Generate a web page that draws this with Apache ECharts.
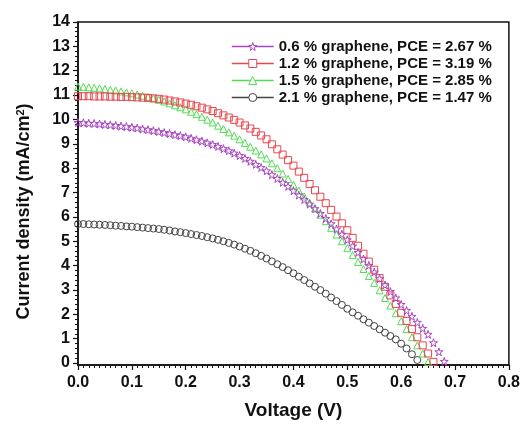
<!DOCTYPE html>
<html>
<head>
<meta charset="utf-8">
<script src="https://cdn.jsdelivr.net/npm/echarts@6/dist/echarts.min.js"></script>
<style>
  html, body { margin: 0; padding: 0; background: #fff; }
  #chart { width: 523px; height: 425px; }
</style>
</head>
<body>
<div id="chart"></div>
<script>
// voltage steps (V) and current density (mA/cm2)
const volts = [
  0.00, 0.01, 0.02, 0.03, 0.04, 0.05, 0.06, 0.07, 0.08, 0.09,
  0.10, 0.11, 0.12, 0.13, 0.14, 0.15, 0.16, 0.17, 0.18, 0.19,
  0.20, 0.21, 0.22, 0.23, 0.24, 0.25, 0.26, 0.27, 0.28, 0.29,
  0.30, 0.31, 0.32, 0.33, 0.34, 0.35, 0.36, 0.37, 0.38, 0.39,
  0.40, 0.41, 0.42, 0.43, 0.44, 0.45, 0.46, 0.47, 0.48, 0.49,
  0.50, 0.51, 0.52, 0.53, 0.54, 0.55, 0.56, 0.57, 0.58, 0.59,
  0.60, 0.61, 0.62, 0.63, 0.64, 0.65, 0.66, 0.67, 0.68
]

const g06 = [
  9.80, 9.79, 9.77, 9.76, 9.74, 9.72, 9.70, 9.68, 9.65, 9.63,
  9.60, 9.57, 9.53, 9.50, 9.46, 9.42, 9.38, 9.34, 9.29, 9.25,
  9.20, 9.14, 9.08, 9.02, 8.95, 8.88, 8.80, 8.71, 8.62, 8.52,
  8.42, 8.30, 8.18, 8.05, 7.92, 7.78, 7.62, 7.46, 7.30, 7.13,
  6.95, 6.77, 6.58, 6.39, 6.20, 6.00, 5.79, 5.57, 5.35, 5.13,
  4.90, 4.64, 4.37, 4.10, 3.83, 3.55, 3.28, 3.01, 2.74, 2.47,
  2.20, 1.95, 1.70, 1.45, 1.20, 0.95, 0.60, 0.22, -0.18
]
const g12 = [
  10.90, 10.90, 10.90, 10.89, 10.89, 10.89, 10.88, 10.88, 10.87, 10.87,
  10.86, 10.85, 10.84, 10.83, 10.81, 10.79, 10.76, 10.72, 10.68, 10.64,
  10.59, 10.54, 10.48, 10.42, 10.35, 10.28, 10.19, 10.10, 10.01, 9.91,
  9.80, 9.68, 9.55, 9.41, 9.26, 9.10, 8.89, 8.68, 8.46, 8.23,
  8.00, 7.75, 7.49, 7.23, 6.97, 6.70, 6.43, 6.15, 5.87, 5.59,
  5.30, 4.98, 4.65, 4.32, 3.99, 3.65, 3.30, 2.94, 2.58, 2.22,
  1.85, 1.51, 1.17, 0.83, 0.49, 0.15, -0.20
]
const g15 = [
  11.30, 11.29, 11.27, 11.25, 11.23, 11.20, 11.17, 11.14, 11.10, 11.06,
  11.02, 10.97, 10.92, 10.87, 10.81, 10.75, 10.68, 10.60, 10.52, 10.44,
  10.35, 10.25, 10.15, 10.04, 9.92, 9.80, 9.67, 9.53, 9.39, 9.25,
  9.10, 8.95, 8.79, 8.63, 8.47, 8.30, 8.10, 7.89, 7.67, 7.44,
  7.20, 6.96, 6.71, 6.46, 6.21, 5.95, 5.68, 5.40, 5.12, 4.84,
  4.55, 4.26, 3.97, 3.68, 3.39, 3.10, 2.79, 2.47, 2.15, 1.83,
  1.50, 1.17, 0.83, 0.49, 0.15, -0.20
]
const g21 = [
  5.56, 5.56, 5.55, 5.54, 5.53, 5.52, 5.51, 5.49, 5.48, 5.46,
  5.45, 5.43, 5.41, 5.39, 5.37, 5.35, 5.32, 5.29, 5.25, 5.22,
  5.18, 5.14, 5.10, 5.06, 5.01, 4.96, 4.90, 4.84, 4.77, 4.70,
  4.62, 4.53, 4.44, 4.34, 4.23, 4.12, 4.00, 3.88, 3.76, 3.63,
  3.50, 3.36, 3.22, 3.08, 2.94, 2.80, 2.65, 2.49, 2.34, 2.18,
  2.02, 1.87, 1.73, 1.58, 1.44, 1.30, 1.16, 1.02, 0.88, 0.74,
  0.56, 0.36, 0.12, -0.12
]

const names = [
  '0.6 % graphene, PCE = 2.67 %',
  '1.2 % graphene, PCE = 3.19 %',
  '1.5 % graphene, PCE = 2.85 %',
  '2.1 % graphene, PCE = 1.47 %'
]
const colors = ['#a845c0', '#e8474f', '#55dd55', '#444444']
const starPath = 'path://M50,2 L61,37 L98,37 L68,59 L79,95 L50,73 L21,95 L32,59 L2,37 L39,37 Z'
const symbols = [starPath, 'rect', 'triangle', 'circle']
const curves = [g06, g12, g15, g21]

const font = 'Liberation Sans'

function pairs(ys) {
  return ys.map((y, i) => [volts[i], y])
}

const chart = echarts.init(document.getElementById('chart'), null, { renderer: 'canvas' })

chart.setOption({
  animation: false,
  backgroundColor: '#fff',
  textStyle: { fontFamily: font },
  grid: [
    { left: 78, right: 12, top: 22, bottom: 54, show: true, borderColor: '#111', borderWidth: 1.5 },
    { left: 78, right: 12, top: 22, bottom: 62 }
  ],
  legend: {
    orient: 'vertical',
    left: 226,
    top: 33,
    itemWidth: 42,
    itemHeight: 10,
    itemGap: 0,
    lineStyle: { width: 1.5, opacity: 1 },
    itemStyle: { color: '#fff', borderWidth: 1 },
    textStyle: { fontFamily: font, fontSize: 15, fontWeight: 'bold', color: '#111', lineHeight: 17 },
    data: names
  },
  xAxis: [
    {
      gridIndex: 0,
      type: 'value',
      min: 0,
      max: 0.8,
      interval: 0.1,
      name: 'Voltage (V)',
      nameLocation: 'middle',
      nameGap: 36,
      nameTextStyle: { fontFamily: font, fontSize: 19, fontWeight: 'bold', color: '#111' },
      axisLine: { onZero: false, lineStyle: { color: '#111', width: 1.5 } },
      axisTick: { inside: false, length: 5, lineStyle: { color: '#111', width: 1.2 } },
      minorTick: { show: true, splitNumber: 10, length: 3, lineStyle: { color: '#111', width: 1 } },
      axisLabel: {
        margin: 10,
        fontFamily: font,
        fontSize: 16,
        fontWeight: 'bold',
        color: '#111',
        formatter: v => v.toFixed(1)
      },
      splitLine: { show: false }
    },
    { gridIndex: 1, type: 'value', min: 0, max: 0.8, show: false }
  ],
  yAxis: [
    {
      gridIndex: 0,
      type: 'value',
      min: -0.33,
      max: 14,
      name: 'Current density (mA/cm{sup|2})',
      nameLocation: 'middle',
      nameGap: 44,
      nameTextStyle: {
        fontFamily: font,
        fontSize: 18,
        fontWeight: 'bold',
        color: '#111',
        padding: [0, 36, 0, 0],
        rich: {
          sup: { fontFamily: font, fontSize: 11, fontWeight: 'bold', color: '#111', verticalAlign: 'top', padding: [0, 0, 8, 0] }
        }
      },
      axisLine: { onZero: false, lineStyle: { color: '#111', width: 1.5 } },
      axisTick: { show: false },
      axisLabel: { show: false },
      splitLine: { show: false }
    },
    {
      gridIndex: 1,
      type: 'value',
      min: 0,
      max: 14,
      interval: 1,
      axisLine: { show: false },
      axisTick: { inside: false, length: 5, lineStyle: { color: '#111', width: 1.2 } },
      minorTick: { show: true, splitNumber: 5, length: 3, lineStyle: { color: '#111', width: 1 } },
      axisLabel: { margin: 8, fontFamily: font, fontSize: 16, fontWeight: 'bold', color: '#111' },
      splitLine: { show: false }
    }
  ],
  series: curves.map((ys, i) => ({
    name: names[i],
    type: 'line',
    xAxisIndex: 0,
    yAxisIndex: 0,
    data: pairs(ys),
    symbol: symbols[i],
    symbolSize: i === 0 ? 8 : 7,
    showSymbol: true,
    lineStyle: { color: colors[i], width: 1, opacity: 0 },
    itemStyle: { color: 'rgba(255,255,255,0)', borderColor: colors[i], borderWidth: 1 },
    emphasis: { disabled: true },
    z: 10 - i
  }))
})
</script>
</body>
</html>
